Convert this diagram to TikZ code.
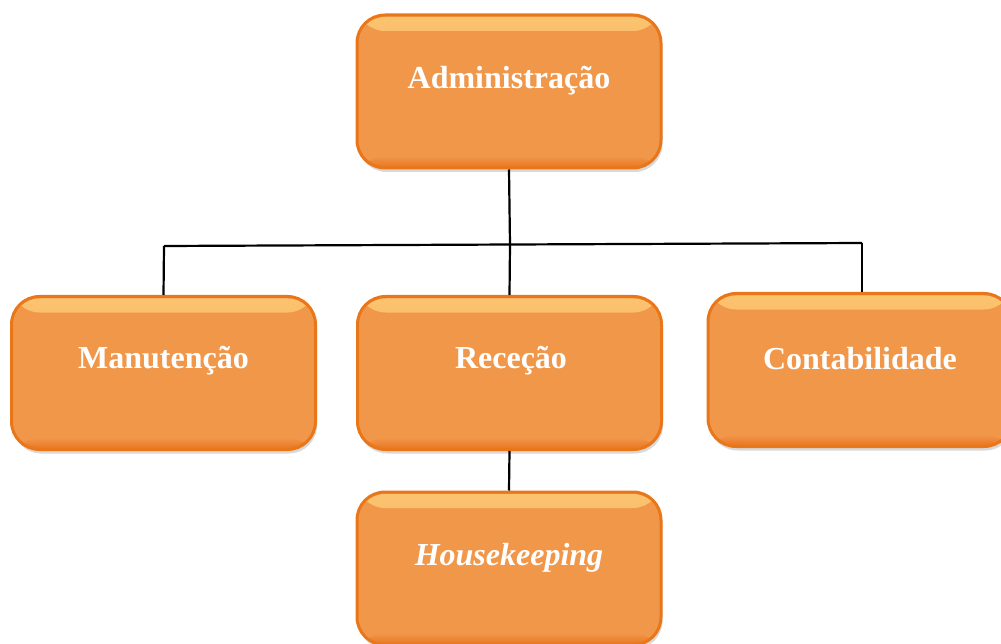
\documentclass[tikz,border=0pt]{standalone}
\usepackage{fontspec}
\setmainfont{Liberation Serif}
\usetikzlibrary{shadows}
\definecolor{boxface}{RGB}{241,151,74}
\definecolor{boxedge}{RGB}{234,118,26}
\definecolor{boxglow}{RGB}{252,196,112}
\definecolor{boxdeep}{RGB}{232,116,30}
\tikzset{
  orgbox/.style={rounded corners=28pt, minimum width=304pt, minimum height=153pt,
    fill=boxface, draw=boxedge, line width=3pt,
    drop shadow={opacity=0.3, shadow xshift=1.5pt, shadow yshift=-4pt},
    path picture={
      \fill[top color=boxglow, bottom color=boxface]
        ([yshift=-2pt]path picture bounding box.north west) rectangle
        ([yshift=-16pt]path picture bounding box.north east);
      \fill[top color=boxface, bottom color=boxdeep]
        ([yshift=12pt]path picture bounding box.south west) rectangle
        (path picture bounding box.south east);
    }},
  orglabel/.style={text=white, inner sep=0pt, font=\fontsize{32}{38}\selectfont\bfseries},
  link/.style={draw=black, line width=2.2pt}
}
\begin{document}
\begin{tikzpicture}[x=1pt,y=-1pt]
  \useasboundingbox (0,0) rectangle (1001,644);

  % boxes
  \node[orgbox] (adm) at (509,91.5) {};
  \node[orgbox] (man) at (163.5,373) {};
  \node[orgbox] (rec) at (509.5,373) {};
  \node[orgbox] (con) at (860,370) {};
  \node[orgbox] (hk)  at (509,568.5) {};

  % labels
  \node[orglabel] (admL) at ([yshift=11pt]adm.center) {Administração};
  \node[orglabel] (manL) at ([yshift=12pt]man.center) {Manutenção};
  \node[orglabel] (recL) at ([xshift=1.5pt,yshift=12pt]rec.center) {Receção};
  \node[orglabel] (conL) at ([yshift=11.5pt]con.center) {Contabilidade};
  \node[orglabel] (hkL)  at ([yshift=11pt]hk.center) {\itshape Housekeeping};

  % connectors
  \coordinate (busL) at (164,246);
  \coordinate (busM) at (510,244.5);
  \coordinate (busR) at (862,243);
  \draw[link] (adm.south) -- (busM);
  \draw[link] (busL) -- (busR);
  \draw[link] (busL) -- (man.north);
  \draw[link] (busM) -- (rec.north);
  \draw[link] (busR) -- (busR |- con.north);
  \draw[link] (rec.south) -- (hk.north);
\end{tikzpicture}
\end{document}
